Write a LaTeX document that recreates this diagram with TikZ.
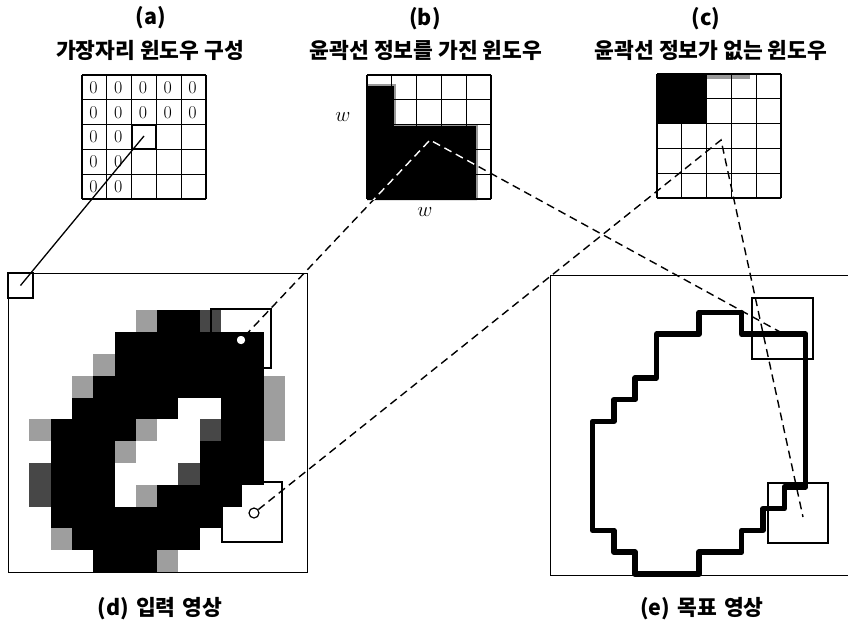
\documentclass[tikz,border=0pt]{standalone}
\usepackage{fontspec}
\newfontfamily\krfont{Noto Sans CJK KR}
\usetikzlibrary{calc}

\tikzset{
  cellgrid/.style={line width=1.1pt},
  linkline/.style={line width=1.4pt, dash pattern=on 8pt off 5pt},
  winbox/.style={draw, line width=1.3pt, inner sep=0pt},
  probe/.style={circle, draw, fill=white, line width=1.2pt, minimum size=10pt, inner sep=0pt},
  caption/.style={font=\krfont\bfseries\fontsize{21.5}{24}\selectfont},
  zero/.style={font=\fontsize{18}{20}\selectfont, inner sep=0pt},
  lightcell/.style={fill=black!38},
  darkcell/.style={fill=black!72},
}

\begin{document}
\begin{tikzpicture}[x=1pt, y=-1pt]
  \useasboundingbox (0,0) rectangle (848,631);
  \pgfmathsetmacro{\gs}{24.8}

  % (a) 가장자리 윈도우
  \node[caption] (aTag)   at (151,18) {(a)};
  \node[caption] (aTitle) at (150,50) {가장자리 윈도우 구성};
  \foreach \i in {0,...,5} {
    \draw[cellgrid] ({82+\gs*\i},75) -- ({82+\gs*\i},199);
    \draw[cellgrid] (82,{75+\gs*\i}) -- (206,{75+\gs*\i});
  }
  \draw[line width=2pt] ({82+2*\gs},{75+2*\gs}) rectangle ({82+3*\gs},{75+3*\gs});
  \foreach \r/\c in {0/0,0/1,0/2,0/3,0/4,1/0,1/1,1/2,1/3,1/4,2/0,2/1,3/0,3/1,4/0,4/1}
    \node[zero] (z-\r-\c) at ({82+\gs*(\c+0.5)-1},{75+\gs*(\r+0.5)}) {0};
  \coordinate (aStart) at (144,136);

  % (b) 윤곽선 정보를 가진 윈도우
  \node[caption] (bTag)   at (425,19) {(b)};
  \node[caption] (bTitle) at (426,50) {윤곽선 정보를 가진 윈도우};
  \fill[black] (367,85) -- (395,85) -- (395,125) -- (477,125) -- (477,200) -- (367,200) -- cycle;
  \draw[black!40, line width=2.5pt] (367,85) -- (395,85) -- (395,125) -- (477,125) -- (477,200);
  \foreach \i in {0,...,5} {
    \draw[cellgrid] ({367+\gs*\i},75) -- ({367+\gs*\i},199);
    \draw[cellgrid] (367,{75+\gs*\i}) -- (491,{75+\gs*\i});
  }
  \node[font=\fontsize{22}{24}\selectfont] (wLeft)   at (343,117) {$w$};
  \node[font=\fontsize{22}{24}\selectfont] (wBottom) at (425,212) {$w$};
  \coordinate (bApex) at (430,140);

  % (c) 윤곽선 정보가 없는 윈도우
  \node[caption] (cTag)   at (706,19) {(c)};
  \node[caption] (cTitle) at (711,50) {윤곽선 정보가 없는 윈도우};
  \fill[black] (657,74) rectangle (706,124);
  \fill[black!40] (706,74) rectangle (750,79);
  \foreach \i in {0,...,5} {
    \draw[cellgrid] ({657+\gs*\i},74) -- ({657+\gs*\i},198);
    \draw[cellgrid] (657,{74+\gs*\i}) -- (781,{74+\gs*\i});
  }
  \coordinate (cApex) at (721,140);

  % (d) 입력 영상 : 14x14 화소
  \draw[line width=1pt] (8,273) rectangle (307,572);
  \begin{scope}[shift={(8,572)}, x=21.3pt, y=21.8pt]
    \foreach \k/\a/\b in {11/7/8, 10/5/11, 9/5/11, 8/4/11, 7/3/7, 7/10/11,
        6/2/5, 6/10/11, 5/2/4, 5/9/11, 4/2/4, 4/9/11, 3/2/4, 3/7/10,
        2/2/9, 1/3/8, 0/4/6}
      \fill[black] (\a,\k) rectangle (\b+1,\k+1);
    \foreach \k/\c in {11/6, 9/4, 8/3, 8/12, 7/12, 6/12, 6/1, 6/6, 5/5, 3/6, 1/2, 0/7}
      \fill[lightcell] (\c,\k) rectangle (\c+1,\k+1);
    \foreach \k/\c in {11/9, 6/9, 4/1, 4/8, 3/1}
      \fill[darkcell] (\c,\k) rectangle (\c+1,\k+1);
  \end{scope}
  \node[winbox, minimum size=25pt] (dCorner) at (20.5,285.5) {};
  \node[winbox, minimum width=60pt, minimum height=59pt] (dWinA) at (241,338.5) {};
  \node[winbox, minimum size=60pt] (dWinB) at (252,512) {};
  \node[probe] (dProbeA) at (241,340) {};
  \node[probe] (dProbeB) at (254,513) {};
  \node[caption] (dCaption) at (160,609) {(d)\,\,입력\,\,영상};

  % (e) 목표 영상 : 외곽 윤곽선
  \draw[line width=1pt] (848,275) -- (550,275) -- (550,575) -- (848,575);
  \begin{scope}[shift={(550,574)}, x=21.3pt, y=21.8pt]
    \draw[line width=5.5pt, line join=round]
      (7,12) -- (9,12) -- (9,11) -- (12,11) -- (12,4) -- (11,4) -- (11,3)
      -- (10,3) -- (10,2) -- (9,2) -- (9,1) -- (7,1) -- (7,0) -- (4,0)
      -- (4,1) -- (3,1) -- (3,2) -- (2,2) -- (2,7) -- (3,7) -- (3,8)
      -- (4,8) -- (4,9) -- (5,9) -- (5,11) -- (7,11) -- cycle;
  \end{scope}
  \node[winbox, minimum size=61pt] (eWinA) at (782.5,328.5) {};
  \node[winbox, minimum size=60pt] (eWinB) at (798,513) {};
  \coordinate (eEndA) at (782,333);
  \coordinate (eEndB) at (803,517);
  \node[caption] (eCaption) at (702,609) {(e)\,\,목표\,\,영상};

  % 연결선
  \draw[line width=1.3pt] (aStart) -- (dCorner.center);
  \draw[linkline] (dProbeA) -- (bApex) -- (eEndA);
  \draw[linkline] (dProbeB) -- (cApex) -- (eEndB);
  \begin{scope}
    \clip (367,85) -- (395,85) -- (395,125) -- (477,125) -- (477,200) -- (367,200) -- cycle;
    \draw[linkline, white] (dProbeA) -- (bApex) -- (eEndA);
  \end{scope}
\end{tikzpicture}
\end{document}
